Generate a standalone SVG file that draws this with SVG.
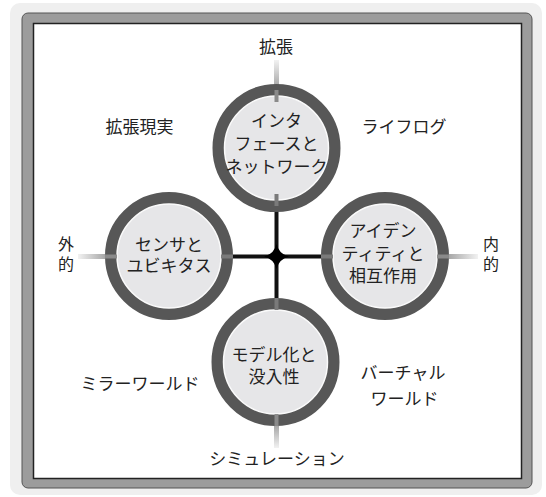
<svg xmlns="http://www.w3.org/2000/svg" width="546" height="497" viewBox="0 0 546 497">
<defs>
<linearGradient id="fadeDown" x1="0" y1="0" x2="0" y2="1"><stop offset="0" stop-color="#f2f2f2"/><stop offset="1" stop-color="#a8a8a8"/></linearGradient>
<linearGradient id="fadeUp" x1="0" y1="1" x2="0" y2="0"><stop offset="0" stop-color="#f2f2f2"/><stop offset="1" stop-color="#a8a8a8"/></linearGradient>
<linearGradient id="fadeRight" x1="0" y1="0" x2="1" y2="0"><stop offset="0" stop-color="#f2f2f2"/><stop offset="1" stop-color="#a8a8a8"/></linearGradient>
<linearGradient id="fadeLeft" x1="1" y1="0" x2="0" y2="0"><stop offset="0" stop-color="#f2f2f2"/><stop offset="1" stop-color="#a8a8a8"/></linearGradient>
</defs>
<style>
.ring{fill:none;stroke:#575757;stroke-width:12}
.face{fill:#e6e6e8;stroke:#fafafa;stroke-width:1.5}
.t{font-family:"Liberation Serif","Noto Sans CJK JP",serif;font-size:17px;fill:#222;text-anchor:middle}
.lbl{font-family:"Liberation Serif","Noto Sans CJK JP",serif;font-size:17px;fill:#222;text-anchor:middle}
.side{font-family:"Liberation Serif","Noto Sans CJK JP",serif;font-size:16px;fill:#222;text-anchor:middle}
.blk{stroke:#111;stroke-width:4;fill:none}
.cross{fill:#7a7a7a}
</style>
<!-- frame -->
<rect x="10" y="3" width="532" height="492" rx="10" fill="#efefef"/>
<rect x="22" y="13" width="510" height="475" rx="6" fill="#9c9c9c" stroke="#555" stroke-width="1"/>
<rect x="33.5" y="23.5" width="488" height="455" fill="#fff" stroke="#222" stroke-width="1.5"/>

<g id="connectors">
<rect x="274" y="60" width="5" height="26" fill="url(#fadeDown)"/>
<rect x="274" y="426" width="5" height="22" fill="url(#fadeUp)"/>
<rect x="78" y="254" width="27" height="5" fill="url(#fadeRight)"/>
<rect x="449" y="254" width="29" height="5" fill="url(#fadeLeft)"/>
<line class="blk" x1="276.5" y1="200" x2="276.5" y2="310"/>
<line class="blk" x1="220" y1="256.5" x2="330" y2="256.5"/>
<path d="M276.5,244 Q279,254 289,256.5 Q279,259 276.5,269 Q274,259 264,256.5 Q274,254 276.5,244Z" fill="#000"/>
</g>

<g id="node-top">
<circle class="ring" cx="276.5" cy="148" r="58"/>
<circle class="face" cx="276.5" cy="148" r="52"/>
<rect class="cross" x="274.5" y="194" width="4" height="12"/>
<rect x="274.5" y="90" width="4" height="12" fill="#8a8a8a"/>
<text class="t" x="276.5" y="127">インタ</text>
<text class="t" x="276.5" y="150">フェースと</text>
<text class="t" x="276.5" y="173">ネットワーク</text>
</g>

<g id="node-left">
<circle class="ring" cx="169" cy="256" r="58"/>
<circle class="face" cx="169" cy="256" r="52"/>
<rect class="cross" x="221" y="254.5" width="12" height="4"/>
<rect x="105" y="254.5" width="12" height="4" fill="#8a8a8a"/>
<text class="t" x="169" y="251">センサと</text>
<text class="t" x="169" y="272">ユビキタス</text>
</g>

<g id="node-right">
<circle class="ring" cx="385" cy="256" r="58"/>
<circle class="face" cx="385" cy="256" r="52"/>
<rect class="cross" x="321" y="254.5" width="12" height="4"/>
<rect x="437" y="254.5" width="12" height="4" fill="#8a8a8a"/>
<text class="t" x="383" y="237">アイデン</text>
<text class="t" x="383" y="260">ティティと</text>
<text class="t" x="383" y="282">相互作用</text>
</g>

<g id="node-bottom">
<circle class="ring" cx="275.5" cy="362" r="58"/>
<circle class="face" cx="275.5" cy="362" r="52"/>
<rect class="cross" x="274.5" y="298" width="4" height="12"/>
<rect x="274.5" y="414" width="4" height="12" fill="#8a8a8a"/>
<text class="t" x="274" y="361">モデル化と</text>
<text class="t" x="274" y="383">没入性</text>
</g>

<g id="labels">
<text class="lbl" x="276" y="53">拡張</text>
<text class="lbl" x="139.5" y="133">拡張現実</text>
<text class="lbl" x="404" y="133">ライフログ</text>
<text class="side" x="66" y="250">外</text>
<text class="side" x="66" y="270">的</text>
<text class="side" x="491" y="250">内</text>
<text class="side" x="491" y="270">的</text>
<text class="lbl" x="140" y="390">ミラーワールド</text>
<text class="lbl" x="403" y="379">バーチャル</text>
<text class="lbl" x="404.5" y="405">ワールド</text>
<text class="lbl" x="277" y="465">シミュレーション</text>
</g>
</svg>
